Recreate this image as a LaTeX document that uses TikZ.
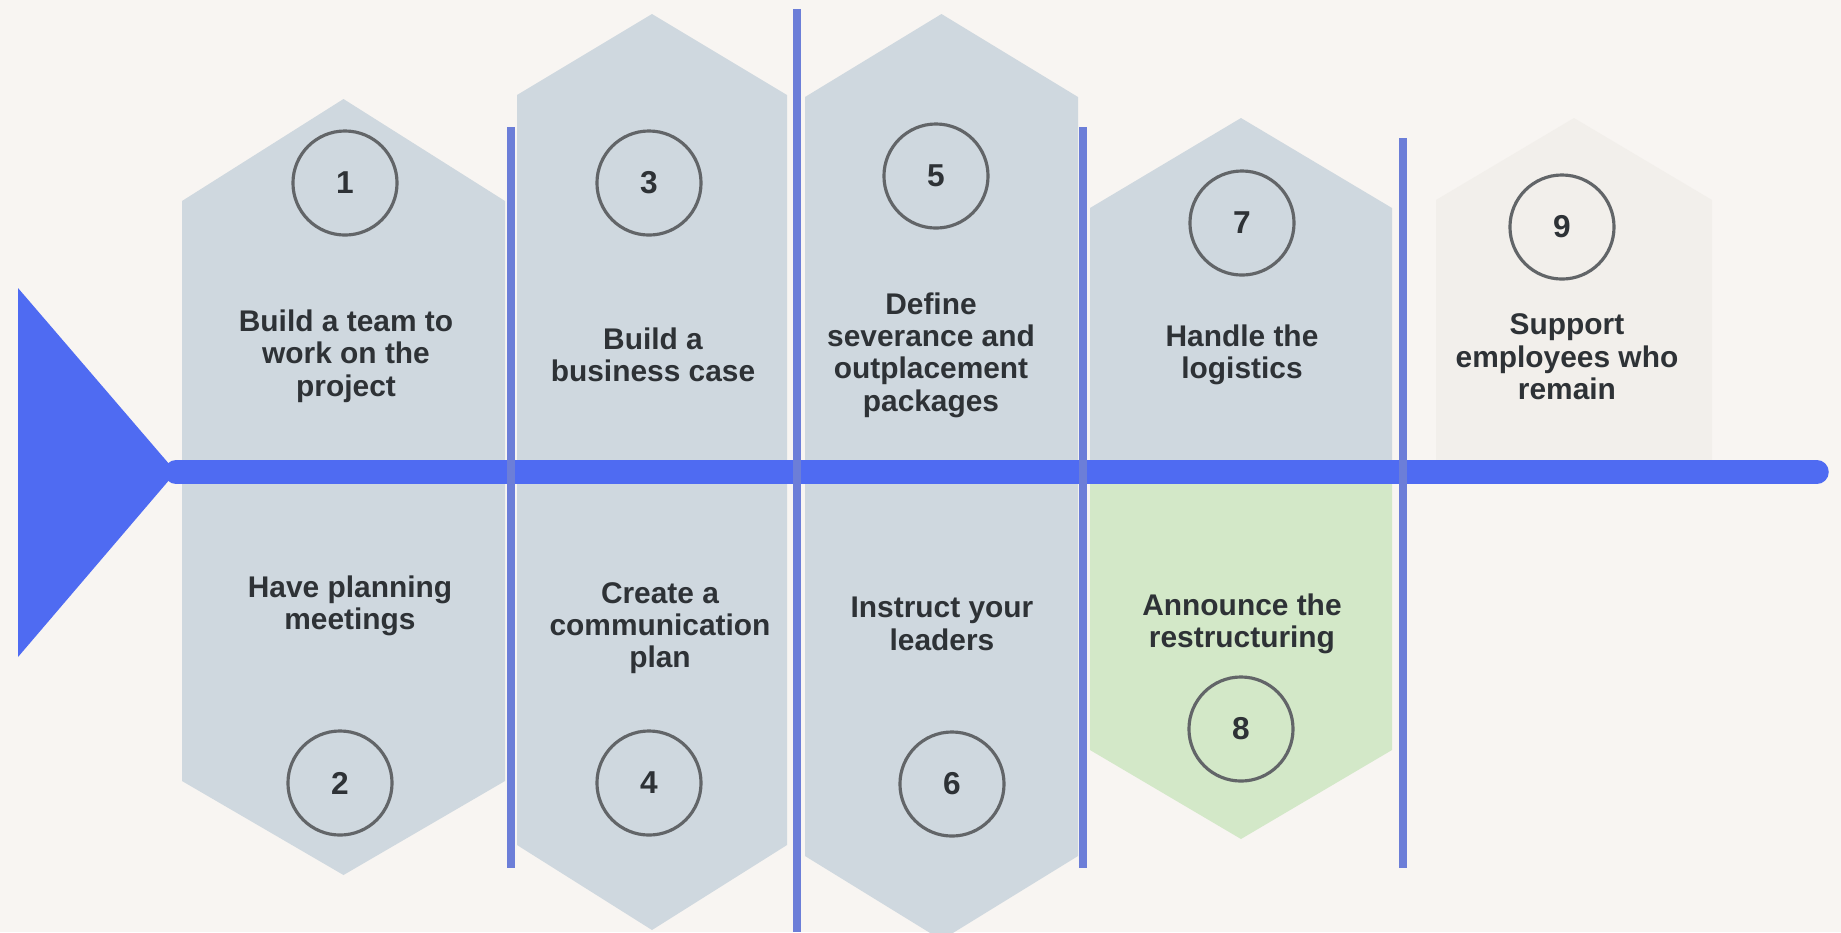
\documentclass[tikz,border=0pt]{standalone}
\usepackage{fontspec}
\setmainfont{Liberation Sans}
\usetikzlibrary{positioning}

\definecolor{spineblue}{HTML}{4F6BF2}
\definecolor{rulecol}{HTML}{6C7ED8}
\definecolor{panelgrey}{HTML}{CFD8DF}
\definecolor{panelgreen}{HTML}{D3E8C8}
\definecolor{panelpale}{HTML}{F2EFEB}
\definecolor{bgcol}{HTML}{F8F5F2}
\definecolor{inkcol}{HTML}{2E3236}

\tikzset{
  stepnum/.style={circle,draw=inkcol!75,line width=0.9pt,minimum size=1.04cm,
    inner sep=0pt,text=inkcol,font=\fontsize{9}{11}\selectfont\bfseries},
  steptext/.style={align=center,inner sep=0pt,text=inkcol,
    font=\fontsize{8.5}{9.2}\selectfont\bfseries},
  divider/.style={rulecol,line width=2pt}
}

\begin{document}
\begin{tikzpicture}[x=0.01cm,y=-0.01cm]
    \clip (0,0) rectangle (1841,932);
    \fill[bgcol] (0,0) rectangle (1841,932);
    % full grey columns: left/right/top apex/top shoulder/bottom shoulder/bottom apex
    \foreach \l/\r/\ta/\ts/\bs/\ba in {182/505/99/201/781/875,
                                       517/787/14/95/845/930,
                                       805/1078/14/97/856/940}{
      \fill[panelgrey] (\l,\ts) -- ({(\l+\r)/2},\ta) -- (\r,\ts)
        -- (\r,\bs) -- ({(\l+\r)/2},\ba) -- (\l,\bs) -- cycle;
    }
    % split column and last one
    \fill[panelgrey] (1090,472) -- (1090,208) -- (1241,118) -- (1392,208) -- (1392,472) -- cycle;
    \fill[panelgreen] (1090,472) -- (1090,750) -- (1241,839) -- (1392,750) -- (1392,472) -- cycle;
    \fill[panelpale] (1436,472) -- (1436,200) -- (1574,118) -- (1712,200) -- (1712,472) -- cycle;
    % head and spine
    \fill[spineblue] (18,288) -- (176,472) -- (18,657) -- cycle;
    \draw[spineblue,line width=0.235cm,line cap=round] (176,472) -- (1817,472);
    % dividers
    \foreach \x/\t/\b in {511/127/868, 797/9/932, 1083/127/868, 1403/138/868}
      \draw[divider] (\x,\t) -- (\x,\b);
    % numbers
    \foreach \n/\x/\y in {1/345/183, 3/649/183, 5/936/176, 7/1242/223, 9/1562/227,
                          2/340/783, 4/649/783, 6/952/784, 8/1241/729}
      \node[stepnum] (c\n) at (\x,\y) {\n};
    % labels
    \node[steptext] (t1) at (346,356) {Build a team to\\work on the\\project};
    \node[steptext] (t3) at (653,355) {Build a\\business case};
    \node[steptext] (t5) at (931,355) {Define\\severance and\\outplacement\\packages};
    \node[steptext] (t7) at (1242,355) {Handle the\\logistics};
    \node[steptext] (t9) at (1567,357) {Support\\employees who\\remain};
    \node[steptext] (t2) at (350,606) {Have planning\\meetings};
    \node[steptext] (t4) at (660,628) {Create a\\communication\\plan};
    \node[steptext] (t6) at (942,624) {Instruct your\\leaders};
    \node[steptext] (t8) at (1242,624) {Announce the\\restructuring};
\end{tikzpicture}
\end{document}
